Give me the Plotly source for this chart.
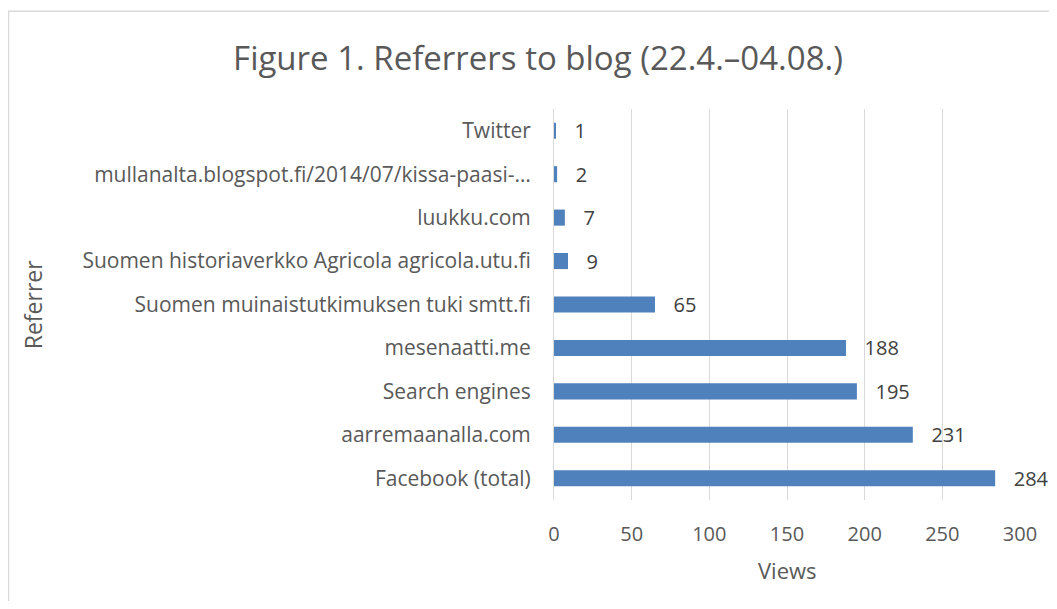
import plotly.graph_objects as go

categories = [
    "Facebook (total)",
    "aarremaanalla.com",
    "Search engines",
    "mesenaatti.me",
    "Suomen muinaistutkimuksen tuki smtt.fi",
    "Suomen historiaverkko Agricola agricola.utu.fi",
    "luukku.com",
    "mullanalta.blogspot.fi/2014/07/kissa-paasi-…",
    "Twitter",
]
views = [284, 231, 195, 188, 65, 9, 7, 2, 1]
x_ticks = [0, 50, 100, 150, 200, 250, 300]

FONT = "'Open Sans', sans-serif"
GRAY = "#595959"

# page body has an 8px margin; work in reference pixel coordinates minus 8
OFF = 8
W, H = 1057 - 2 * OFF, 609 - 2 * OFF
plot_left, plot_right, plot_top, plot_bottom = 554 - OFF, 1020 - OFF, 108.5 - OFF, 500 - OFF
L, R, T, B = plot_left, W - plot_right, plot_top, H - plot_bottom
pw, ph = W - L - R, H - T - B


def px_x(p):
    return (p - OFF - L) / pw


def px_y(p):
    return (H - B - (p - OFF)) / ph


fig = go.Figure(
    go.Bar(
        y=categories,
        x=views,
        orientation="h",
        marker=dict(color="#4F81BD", line=dict(width=0)),
        text=["   " + str(v) for v in views],
        textposition="outside",
        constraintext="none",
        cliponaxis=False,
        textfont=dict(family=FONT, size=20, color="#404040"),
        hoverinfo="skip",
    )
)

fig.update_layout(
    width=W,
    height=H,
    margin=dict(l=L, r=R, t=T, b=B, autoexpand=False),
    paper_bgcolor="white",
    plot_bgcolor="white",
    bargap=0.63,
    showlegend=False,
    title=dict(
        text="Figure 1. Referrers to blog (22.4.–04.08.)",
        x=(538 - OFF) / W,
        xanchor="center",
        y=1 - (58 - OFF) / H,
        yanchor="middle",
        font=dict(family=FONT, size=33, color=GRAY),
    ),
    xaxis=dict(
        range=[0, 300],
        tickvals=x_ticks,
        showgrid=True,
        gridcolor="#D9D9D9",
        gridwidth=1,
        zeroline=False,
        showline=False,
        ticks="",
        ticklabelstandoff=20,
        tickfont=dict(family=FONT, size=20, color=GRAY),
    ),
    yaxis=dict(
        showgrid=False,
        showline=True,
        linecolor="#D9D9D9",
        linewidth=1,
        ticks="",
        ticklabelstandoff=18,
        tickfont=dict(family=FONT, size=21, color=GRAY),
    ),
    annotations=[
        dict(
            text="Views", xref="paper", yref="paper",
            x=px_x(787), y=px_y(570), xanchor="center", yanchor="middle",
            showarrow=False, font=dict(family=FONT, size=22, color=GRAY),
        ),
        dict(
            text="Referrer", xref="paper", yref="paper",
            x=px_x(33), y=px_y(305), xanchor="center", yanchor="middle",
            textangle=-90,
            showarrow=False, font=dict(family=FONT, size=23, color=GRAY),
        ),
    ],
    shapes=[
        dict(
            type="rect", xref="paper", yref="paper",
            x0=px_x(8.5), x1=px_x(1070), y0=px_y(620), y1=px_y(10.5),
            line=dict(color="#D9D9D9", width=1.5), fillcolor="rgba(0,0,0,0)",
            layer="below",
        )
    ],
)

fig.write_html("out.html")
